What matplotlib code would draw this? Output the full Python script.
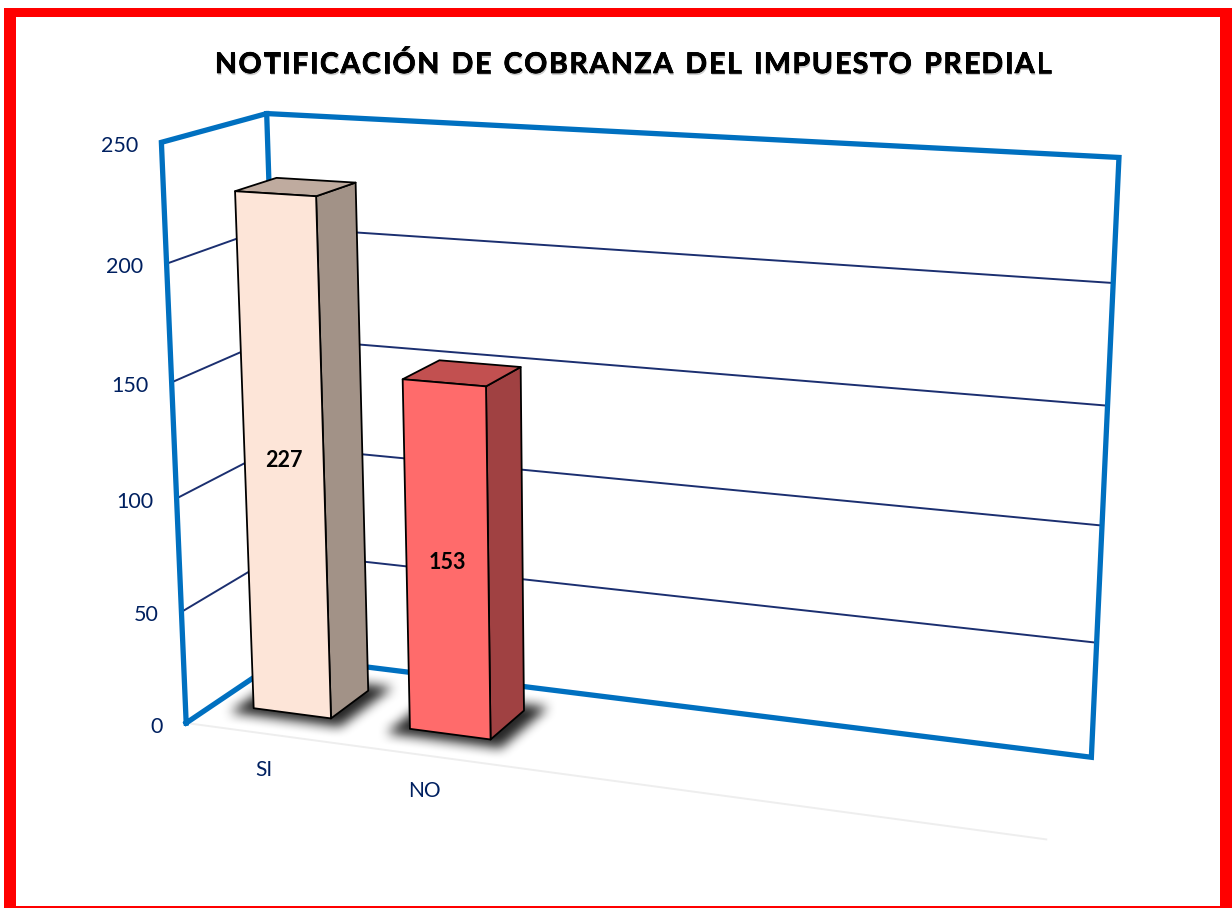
import numpy as np
import matplotlib
matplotlib.use('Agg')
import matplotlib.pyplot as plt
import matplotlib.patheffects as pe
from matplotlib.font_manager import FontProperties
from matplotlib.path import Path
from matplotlib.patches import Polygon, Rectangle

# data
title = 'NOTIFICACIÓN DE COBRANZA DEL IMPUESTO PREDIAL'
categories = ['SI', 'NO']
values = [227, 153]
y_ticks = [0, 50, 100, 150, 200, 250]
y_max = 250

# chart has 5 category slots, only the first two are used
n_slots = 5
bar_width = 0.5
depth_front, depth_back = 0.285, 0.69

front_colors = ['#FDE5D8', '#FF6B6B']
side_colors = ['#A29287', '#A04142']
top_colors = ['#BFAB9F', '#C25050']
wall_color = '#0070C0'
grid_color = '#1B2F70'
text_color = '#002060'

# camera fitted to the corners of the 3D box: (x, value, depth) -> pixel
calib = [
    ((0, 0, 0), (186, 725)), ((0, 50, 0), (182, 612)), ((0, 100, 0), (177, 497)),
    ((0, 150, 0), (172, 381)), ((0, 200, 0), (167, 264)), ((0, 250, 0), (160, 143)),
    ((1, 0, 0), (1046, 839)),
    ((0, 0, 1), (284, 656)), ((0, 250, 1), (267, 114)),
    ((1, 0, 1), (1092, 757)), ((1, 50, 1), (1097, 643)), ((1, 100, 1), (1101, 526)),
    ((1, 150, 1), (1107, 406)), ((1, 200, 1), (1113, 283)), ((1, 250, 1), (1120, 157)),
]
rows = []
for (cx, cy, cz), (u, v) in calib:
    X = [cx, cy / y_max, cz, 1]
    rows.append(X + [0, 0, 0, 0] + [-u / 1000 * c for c in X])
    rows.append([0, 0, 0, 0] + X + [-v / 1000 * c for c in X])
P = np.linalg.svd(np.array(rows))[2][-1].reshape(3, 4)


def project(x, y, z):
    h = P @ np.array([x, y / y_max, z, 1])
    return h[0] / h[2] * 1000, h[1] / h[2] * 1000


def draw_shadow(ax, corners):
    # soft shadow: blurred mask of the enlarged bar footprint
    pts = np.array(corners)
    center = pts.mean(axis=0)
    pts = center + (pts - center) * 1.42
    x0, y0 = np.floor(pts.min(axis=0)).astype(int) - 25
    x1, y1 = np.ceil(pts.max(axis=0)).astype(int) + 25
    xx, yy = np.meshgrid(np.arange(x0, x1), np.arange(y0, y1))
    mask = Path(pts).contains_points(np.c_[xx.ravel(), yy.ravel()]).reshape(xx.shape).astype(float)
    kernel = np.ones(13) / 13
    for _ in range(2):
        mask = np.apply_along_axis(lambda r: np.convolve(r, kernel, mode='same'), 0, mask)
        mask = np.apply_along_axis(lambda r: np.convolve(r, kernel, mode='same'), 1, mask)
    rgba = np.zeros(mask.shape + (4,))
    rgba[..., 3] = mask * 0.85
    ax.imshow(rgba, extent=(x0, x1, y1, y0), aspect='auto', zorder=3, interpolation='bilinear')


fig = plt.figure(figsize=(12.32, 9.08), dpi=100, facecolor='white')
ax = fig.add_axes([0, 0, 1, 1])
ax.axis('off')

# red frame
ax.add_patch(Rectangle((4, 8), 1228, 900, facecolor='#FF0000', edgecolor='none', zorder=0))
ax.add_patch(Rectangle((15.5, 17), 1204.5, 889, facecolor='white', edgecolor='none', zorder=0.5))

# floor front edge
fx, fy = zip(project(0, 0, 0), project(1, 0, 0))
ax.plot(fx, fy, color='#EEEEEE', lw=1.4, zorder=1)

# gridlines on the two walls
for tick in y_ticks[1:-1]:
    gx, gy = zip(project(0, tick, 0), project(0, tick, 1), project(1, tick, 1))
    ax.plot(gx, gy, color=grid_color, lw=1.4, zorder=1.5)

# blue box outline
outline = [(0, 0, 0), (0, y_max, 0), (0, y_max, 1), (1, y_max, 1), (1, 0, 1), (0, 0, 1), (0, 0, 0)]
wx, wy = zip(*[project(*c) for c in outline])
ax.plot(wx, wy, color=wall_color, lw=3.8, solid_joinstyle='miter', zorder=2)
vx, vy = zip(project(0, 0, 1), project(0, y_max, 1))
ax.plot(vx, vy, color=wall_color, lw=3.8, zorder=2)

# bars
for i, (cat, val) in enumerate(zip(categories, values)):
    mid = (i + 0.5) / n_slots
    half = bar_width / n_slots / 2
    x0, x1 = mid - half, mid + half
    z0, z1 = depth_front, depth_back
    draw_shadow(ax, [project(x0, 0, z0), project(x1, 0, z0), project(x1, 0, z1), project(x0, 0, z1)])
    faces = [
        ([(x1, 0, z0), (x1, 0, z1), (x1, val, z1), (x1, val, z0)], side_colors[i]),
        ([(x0, val, z0), (x1, val, z0), (x1, val, z1), (x0, val, z1)], top_colors[i]),
        ([(x0, 0, z0), (x1, 0, z0), (x1, val, z0), (x0, val, z0)], front_colors[i]),
    ]
    for corners, color in faces:
        ax.add_patch(Polygon([project(*c) for c in corners], closed=True, facecolor=color,
                             edgecolor='black', lw=1.3, joinstyle='round', zorder=4))
    lx, ly = project(mid, val / 2, z0)
    ax.text(lx, ly + 1, str(val), ha='center', va='center', fontsize=15.5, fontweight='bold',
            family='Lato', color='black', zorder=5)
    cx, cy = project(mid, 0, 0)
    ax.text(cx, cy + 36, cat, ha='center', va='center', fontsize=15, family='Lato',
            color=text_color, zorder=5)

# value axis labels
for tick in y_ticks:
    tx, ty = project(0, tick, 0)
    ax.text(tx - 23, ty + 3.5, str(tick), ha='right', va='center', fontsize=15.5, family='Lato', color=text_color)

ax.set_xlim(0, 1232)
ax.set_ylim(908, 0)

# title, letter by letter because of the wide tracking
fp = FontProperties(family='Lato', weight='bold', size=20.5)
renderer = fig.canvas.get_renderer()
widths = []
for ch in title:
    if ch == ' ':
        widths.append(9.0)
    else:
        widths.append(renderer.get_text_width_height_descent(ch, fp, False)[0])
title_left, title_right = 215, 1051
tracking = (title_right - title_left - sum(widths)) / (len(title) - 1)
pos = title_left
for ch, w in zip(title, widths):
    if ch != ' ':
        ax.text(pos, 73, ch, ha='left', va='baseline', fontproperties=fp, color='black', zorder=6,
                path_effects=[pe.withSimplePatchShadow(offset=(0.6, -1.5), shadow_rgbFace='#777777', alpha=0.35),
                              pe.Stroke(linewidth=0.5, foreground='black'), pe.Normal()])
    pos += w + tracking

fig.savefig('out.png', dpi=100)
